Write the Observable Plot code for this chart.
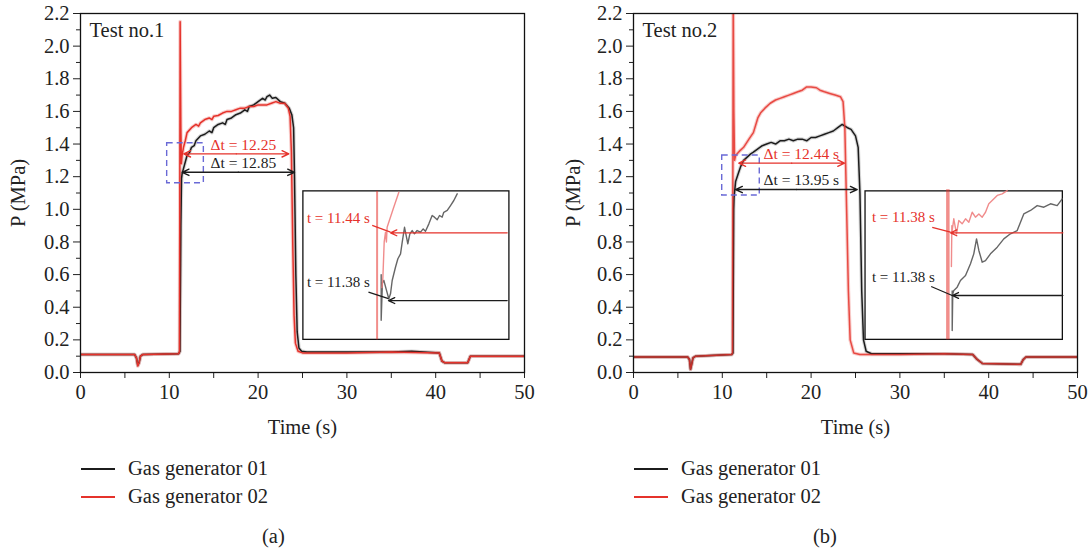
<!DOCTYPE html>
<html><head><meta charset="utf-8">
<script src="https://cdn.jsdelivr.net/npm/d3@7"></script>
<script src="https://cdn.jsdelivr.net/npm/@observablehq/plot@0.6"></script>
<style>
body{margin:0;background:#fff;font-family:"Liberation Serif",serif;}
#wrap{position:relative;width:1092px;height:552px;overflow:hidden;}
.pn{position:absolute;top:0;}
.sw{position:absolute;height:2px;width:34px;}
.lt{position:absolute;font-size:20.5px;line-height:22px;color:#222;white-space:nowrap;}
</style></head>
<body><div id="wrap"></div>
<script>
// ---- axis ticks ----
const xTicks = [0, 10, 20, 30, 40, 50];
const xMinor = [5, 15, 25, 35, 45];
const yTicks = [0, 0.2, 0.4, 0.6, 0.8, 1.0, 1.2, 1.4, 1.6, 1.8, 2.0, 2.2];
const yMinor = [0.1, 0.3, 0.5, 0.7, 0.9, 1.1, 1.3, 1.5, 1.7, 1.9, 2.1];
const seriesNames = ["Gas generator 01", "Gas generator 02"];
const panelLabels = ["(a)", "(b)"];
const testLabels = ["Test no.1", "Test no.2"];

// ---- Test 1 series [time s, P MPa] ----
const t1Gen01 = [[0,0.11],[6.1,0.11],[6.3,0.09],[6.45,0.045],[6.6,0.06],[6.75,0.1],[7,0.11],[11.05,0.115],[11.2,0.13],[11.3,0.9],[11.38,1.19],[11.45,1.22],[11.7,1.27],[12.0,1.33],[12.3,1.35],[12.5,1.38],[12.8,1.39],[13.0,1.42],[13.5,1.45],[14.0,1.46],[14.5,1.48],[14.8,1.47],[15.0,1.5],[15.5,1.52],[16.0,1.53],[16.3,1.52],[16.5,1.55],[17.0,1.56],[17.5,1.58],[18.0,1.59],[18.5,1.61],[18.8,1.60],[19.0,1.63],[19.5,1.64],[20.0,1.66],[20.5,1.68],[20.8,1.67],[21.0,1.69],[21.3,1.70],[21.6,1.68],[22.0,1.685],[22.5,1.66],[23.0,1.65],[23.5,1.62],[23.8,1.58],[24.0,1.5],[24.1,1.2],[24.25,0.6],[24.4,0.25],[24.6,0.15],[24.9,0.13],[25.5,0.125],[30,0.125],[35,0.125],[37.3,0.13],[40.4,0.12],[40.7,0.07],[41,0.06],[43.6,0.06],[43.9,0.1],[50,0.1]];
const t1Gen02 = [[0,0.11],[6.1,0.11],[6.3,0.09],[6.45,0.04],[6.6,0.06],[6.75,0.1],[7,0.11],[11.05,0.115],[11.15,0.13],[11.22,2.15],[11.3,1.5],[11.36,1.28],[11.44,1.33],[11.6,1.38],[11.8,1.42],[12.0,1.47],[12.5,1.5],[13.0,1.52],[13.3,1.51],[13.5,1.53],[14.0,1.55],[14.5,1.56],[14.8,1.55],[15.0,1.57],[15.5,1.575],[16.0,1.59],[16.5,1.6],[17.0,1.6],[17.5,1.61],[18.0,1.62],[18.5,1.62],[19.0,1.63],[19.5,1.63],[20.0,1.64],[20.5,1.64],[21.0,1.64],[21.5,1.65],[22.0,1.66],[22.5,1.65],[23.0,1.65],[23.4,1.62],[23.6,1.57],[23.75,1.35],[23.9,0.8],[24.05,0.35],[24.2,0.18],[24.5,0.13],[25,0.12],[30,0.12],[35,0.125],[40.4,0.12],[40.7,0.07],[41,0.06],[43.6,0.06],[43.9,0.1],[50,0.1]];

// ---- Test 2 series ----
const t2Gen01 = [[0,0.095],[6.1,0.095],[6.3,0.08],[6.42,0.02],[6.55,0.05],[6.7,0.09],[7,0.1],[11.05,0.11],[11.2,0.12],[11.28,1.0],[11.32,1.07],[11.5,1.17],[11.8,1.22],[12.05,1.26],[12.4,1.3],[12.8,1.32],[13.2,1.34],[13.5,1.35],[14.0,1.37],[14.5,1.39],[15.0,1.40],[15.5,1.41],[16.0,1.40],[16.5,1.42],[17.0,1.42],[17.5,1.43],[18.0,1.42],[18.5,1.43],[19.0,1.43],[19.5,1.42],[20.0,1.44],[20.5,1.44],[21.0,1.45],[21.5,1.46],[22.0,1.47],[22.5,1.48],[23.0,1.50],[23.5,1.52],[23.8,1.51],[24.1,1.50],[24.5,1.49],[25.0,1.45],[25.3,1.38],[25.5,1.1],[25.7,0.5],[25.9,0.2],[26.2,0.13],[26.8,0.115],[30,0.115],[35,0.115],[38.2,0.11],[38.7,0.08],[39.3,0.055],[43.6,0.05],[43.9,0.08],[44.2,0.095],[50,0.095]];
const t2Gen02 = [[0,0.095],[6.1,0.095],[6.3,0.08],[6.42,0.02],[6.55,0.05],[6.7,0.09],[7,0.1],[11.05,0.11],[11.15,0.12],[11.23,2.3],[11.3,1.6],[11.38,1.3],[11.5,1.33],[12.0,1.36],[12.4,1.38],[13.0,1.43],[13.5,1.47],[14.0,1.56],[14.3,1.59],[14.8,1.62],[15.4,1.65],[16.0,1.67],[16.5,1.68],[17.0,1.69],[17.5,1.70],[18.0,1.71],[18.5,1.72],[19.0,1.73],[19.5,1.75],[20.0,1.75],[20.6,1.745],[21.0,1.73],[21.5,1.72],[22.1,1.71],[22.7,1.70],[23.3,1.69],[23.6,1.66],[23.8,1.5],[24.0,1.0],[24.2,0.5],[24.4,0.2],[24.8,0.12],[25.5,0.11],[30,0.11],[35,0.115],[38.2,0.11],[38.7,0.08],[39.3,0.055],[43.6,0.05],[43.9,0.08],[44.2,0.095],[50,0.095]];

// ---- Insets (zoomed traces, drawn in main-chart coordinates) ----
const t1InsetBox = [25.1, 48.3, 0.2, 1.11];
const t1InsetMarker = [33.4, 0.2, 1.11];
const t1InsetGen01 = [[33.86,0.60],[33.86,0.32],[34.0,0.55],[34.16,0.564],[34.46,0.503],[34.72,0.452],[34.91,0.482],[35.10,0.564],[35.47,0.645],[35.74,0.697],[36.04,0.727],[36.23,0.799],[36.49,0.890],[36.71,0.829],[36.86,0.789],[37.09,0.850],[37.35,0.870],[37.61,0.850],[37.91,0.870],[38.29,0.860],[38.59,0.880],[38.85,0.866],[39.23,0.911],[39.60,0.962],[39.86,0.952],[40.17,0.936],[40.43,0.962],[40.73,0.952],[40.91,0.982],[41.30,0.993],[41.67,1.023],[42.04,1.054],[42.42,1.095]];
const t1InsetGen02 = [[33.95,0.52],[34.05,0.58],[34.2,0.80],[34.35,0.86],[34.45,0.80],[34.53,0.89],[35.2,1.0],[35.85,1.105]];
const t1Pointers = [
  {label:"t = 11.44 s", lx:25.5, ly:0.944, x1:32.85, y1:0.901, x2:34.91, y2:0.860, ax:48.05, ay:0.856, s:"gen02"},
  {label:"t = 11.38 s", lx:25.5, ly:0.553, x1:32.43, y1:0.492, x2:34.68, y2:0.453, ax:48.05, ay:0.441, s:"gen01"}
];
const t1Delta = [
  {label:"\u0394t = 12.25", from:11.63, to:23.46, y:1.34, ly:1.397, s:"gen02"},
  {label:"\u0394t = 12.85", from:11.45, to:24.1, y:1.227, ly:1.283, s:"gen01"}
];
const t1Dashed = [9.76, 13.89, 1.16, 1.405];

const t2InsetBox = [26.13, 48.35, 0.2, 1.11];
const t2InsetMarker = [35.40, 0.2, 1.12];
const t2InsetGen01 = [[35.89,0.50],[35.89,0.257],[35.95,0.48],[36.07,0.503],[36.45,0.523],[36.82,0.564],[37.39,0.594],[37.95,0.666],[38.32,0.727],[38.63,0.819],[38.89,0.748],[39.27,0.676],[39.64,0.686],[40.20,0.727],[40.96,0.768],[41.70,0.819],[42.45,0.850],[43.21,0.870],[43.58,0.921],[43.95,0.972],[44.71,0.993],[45.46,1.023],[46.21,1.013],[46.96,1.034],[47.71,1.023],[48.28,1.064]];
const t2InsetGen02 = [[35.8,0.65],[35.85,0.90],[35.89,0.870],[36.07,0.942],[36.37,0.850],[36.63,0.931],[37.01,0.911],[37.39,0.942],[37.76,0.921],[38.14,0.982],[38.51,0.952],[38.89,0.972],[39.27,0.952],[39.64,0.982],[40.01,1.034],[40.39,1.054],[40.96,1.085],[41.52,1.095],[42.08,1.115]];
const t2Pointers = [
  {label:"t = 11.38 s", lx:26.85, ly:0.952, x1:33.64, y1:0.890, x2:35.70, y2:0.860, ax:48.35, ay:0.856, s:"gen02"},
  {label:"t = 11.38 s", lx:26.85, ly:0.584, x1:33.52, y1:0.527, x2:35.89, y2:0.472, ax:48.35, ay:0.472, s:"gen01"}
];
const t2Delta = [
  {label:"\u0394t = 12.44 s", from:11.86, to:23.76, y:1.283, ly:1.340, s:"gen02"},
  {label:"\u0394t = 13.95 s", from:11.49, to:25.19, y:1.121, ly:1.177, s:"gen01"}
];
const t2Dashed = [9.99, 14.22, 1.085, 1.33];

// ---- styles ----
const RED = "#e5322b", BLACK = "#1c1c1c";
const col = {gen01: BLACK, gen02: RED};
const FONT = "Liberation Serif, Times New Roman, serif";
const FS = 20.5;

function panel(cfg) {
  const lineOpts = (data, c, w, o) => Plot.line(data, {x: d => d[0], y: d => d[1], stroke: c, strokeWidth: w, strokeOpacity: o, clip: true, strokeLinejoin: "round"});
  const [bx1, bx2, by1, by2] = cfg.box;
  const [dx1, dx2, dy1, dy2] = cfg.dashed;
  const marks = [
    Plot.axisX({ticks: xTicks, tickSize: 6, tickPadding: 6, tickFormat: d => String(d), label: null, fontSize: FS}),
    Plot.axisX({ticks: xMinor, tickSize: 6, tickFormat: () => "", label: null}),
    Plot.axisY({ticks: yTicks, tickSize: 7, tickPadding: 4, tickFormat: d3.format(".1f"), label: null, fontSize: FS}),
    Plot.axisY({ticks: yMinor, tickSize: 4, tickFormat: () => "", label: null}),
    Plot.text(["Time (s)"], {frameAnchor: "bottom", lineAnchor: "middle", textAnchor: "middle", dy: 55, fontSize: FS, fill: "#222"}),
    Plot.text(["P (MPa)"], {frameAnchor: "left", textAnchor: "middle", lineAnchor: "middle", dx: -cfg.ylab, rotate: -90, fontSize: FS, fill: "#222"}),
    Plot.text([cfg.title], {frameAnchor: "top-left", dx: 9, dy: 17, textAnchor: "start", lineAnchor: "middle", fontSize: FS, fill: "#222"}),
    // inset box
    Plot.rect([0], {x1: bx1, x2: bx2, y1: by1, y2: by2, fill: "white", stroke: "#111", strokeWidth: 1.3}),
    Plot.ruleX([cfg.marker[0]], {y1: cfg.marker[1], y2: cfg.marker[2], stroke: RED, strokeWidth: cfg.markerW, strokeOpacity: 0.55}),
    lineOpts(cfg.inset01, "#555", 1.4, 0.9),
    lineOpts(cfg.inset02, "#ee8080", 1.4, 0.9),
    Plot.link(cfg.pointers, {x1: "x1", y1: "y1", x2: "x2", y2: "y2", stroke: d => col[d.s], strokeWidth: 1.3}),
    Plot.arrow(cfg.pointers, {x1: "ax", y1: "ay", x2: "x2", y2: "ay", stroke: d => col[d.s], strokeWidth: 1.3, headLength: 8, headAngle: 50}),
    Plot.text(cfg.pointers, {x: "lx", y: "ly", text: "label", fill: d => col[d.s], textAnchor: "start", fontSize: 15}),
    // main curves (halo + line)
    lineOpts(cfg.gen01, BLACK, 3.6, 0.18),
    lineOpts(cfg.gen02, RED, 3.6, 0.25),
    lineOpts(cfg.gen01, BLACK, 1.5, 1),
    lineOpts(cfg.gen02, RED, 1.5, cfg.redOpacity),
    // dashed box
    Plot.rect([0], {x1: dx1, x2: dx2, y1: dy1, y2: dy2, fill: "none", stroke: "#6a6ad6", strokeWidth: 1.4, strokeDasharray: "6,4"}),
    // delta-t double arrows
    Plot.arrow(cfg.delta, {x1: d => (d.from + d.to) / 2, x2: "to", y1: "y", y2: "y", stroke: d => col[d.s], strokeWidth: 1.4, headLength: 8, headAngle: 50}),
    Plot.arrow(cfg.delta, {x1: d => (d.from + d.to) / 2, x2: "from", y1: "y", y2: "y", stroke: d => col[d.s], strokeWidth: 1.4, headLength: 8, headAngle: 50}),
    Plot.text(cfg.delta, {x: 14.64, y: "ly", text: "label", fill: d => col[d.s], textAnchor: "start", fontSize: 15.5}),
    Plot.frame({stroke: "#111", strokeWidth: 1.3})
  ];
  return Plot.plot({
    width: 546, height: 445,
    marginLeft: cfg.ml, marginRight: cfg.mr, marginTop: 13, marginBottom: 73,
    x: {domain: [0, 50]}, y: {domain: [0, 2.2]},
    style: {fontFamily: FONT, fontSize: FS + "px", color: "#222", background: "transparent", overflow: "visible"},
    marks
  });
}

const wrap = document.getElementById("wrap");
const cfgs = [
  {ml: 80, mr: 22, ylab: 62, title: testLabels[0], gen01: t1Gen01, gen02: t1Gen02, box: t1InsetBox, marker: t1InsetMarker, markerW: 2, inset01: t1InsetGen01, inset02: t1InsetGen02, pointers: t1Pointers, delta: t1Delta, dashed: t1Dashed, redOpacity: 1},
  {ml: 87, mr: 15, ylab: 60, title: testLabels[1], gen01: t2Gen01, gen02: t2Gen02, box: t2InsetBox, marker: t2InsetMarker, markerW: 3.5, inset01: t2InsetGen01, inset02: t2InsetGen02, pointers: t2Pointers, delta: t2Delta, dashed: t2Dashed, redOpacity: 0.85}
];
cfgs.forEach((cfg, i) => {
  const d = document.createElement("div");
  d.className = "pn";
  d.style.left = (i * 546) + "px";
  d.appendChild(panel(cfg));
  wrap.appendChild(d);
  const off = i * 553;
  [BLACK, RED].forEach((c, k) => {
    const sw = document.createElement("div");
    sw.className = "sw";
    sw.style.left = (81 + off) + "px";
    sw.style.top = (468 + k * 28) + "px";
    sw.style.background = c;
    wrap.appendChild(sw);
    const t = document.createElement("div");
    t.className = "lt";
    t.style.left = (128 + off) + "px";
    t.style.top = (457 + k * 28) + "px";
    t.textContent = seriesNames[k];
    wrap.appendChild(t);
  });
  const cap = document.createElement("div");
  cap.className = "lt";
  cap.style.left = (262 + i * 551) + "px";
  cap.style.top = 525 + "px";
  cap.textContent = panelLabels[i];
  wrap.appendChild(cap);
});
</script></body></html>
